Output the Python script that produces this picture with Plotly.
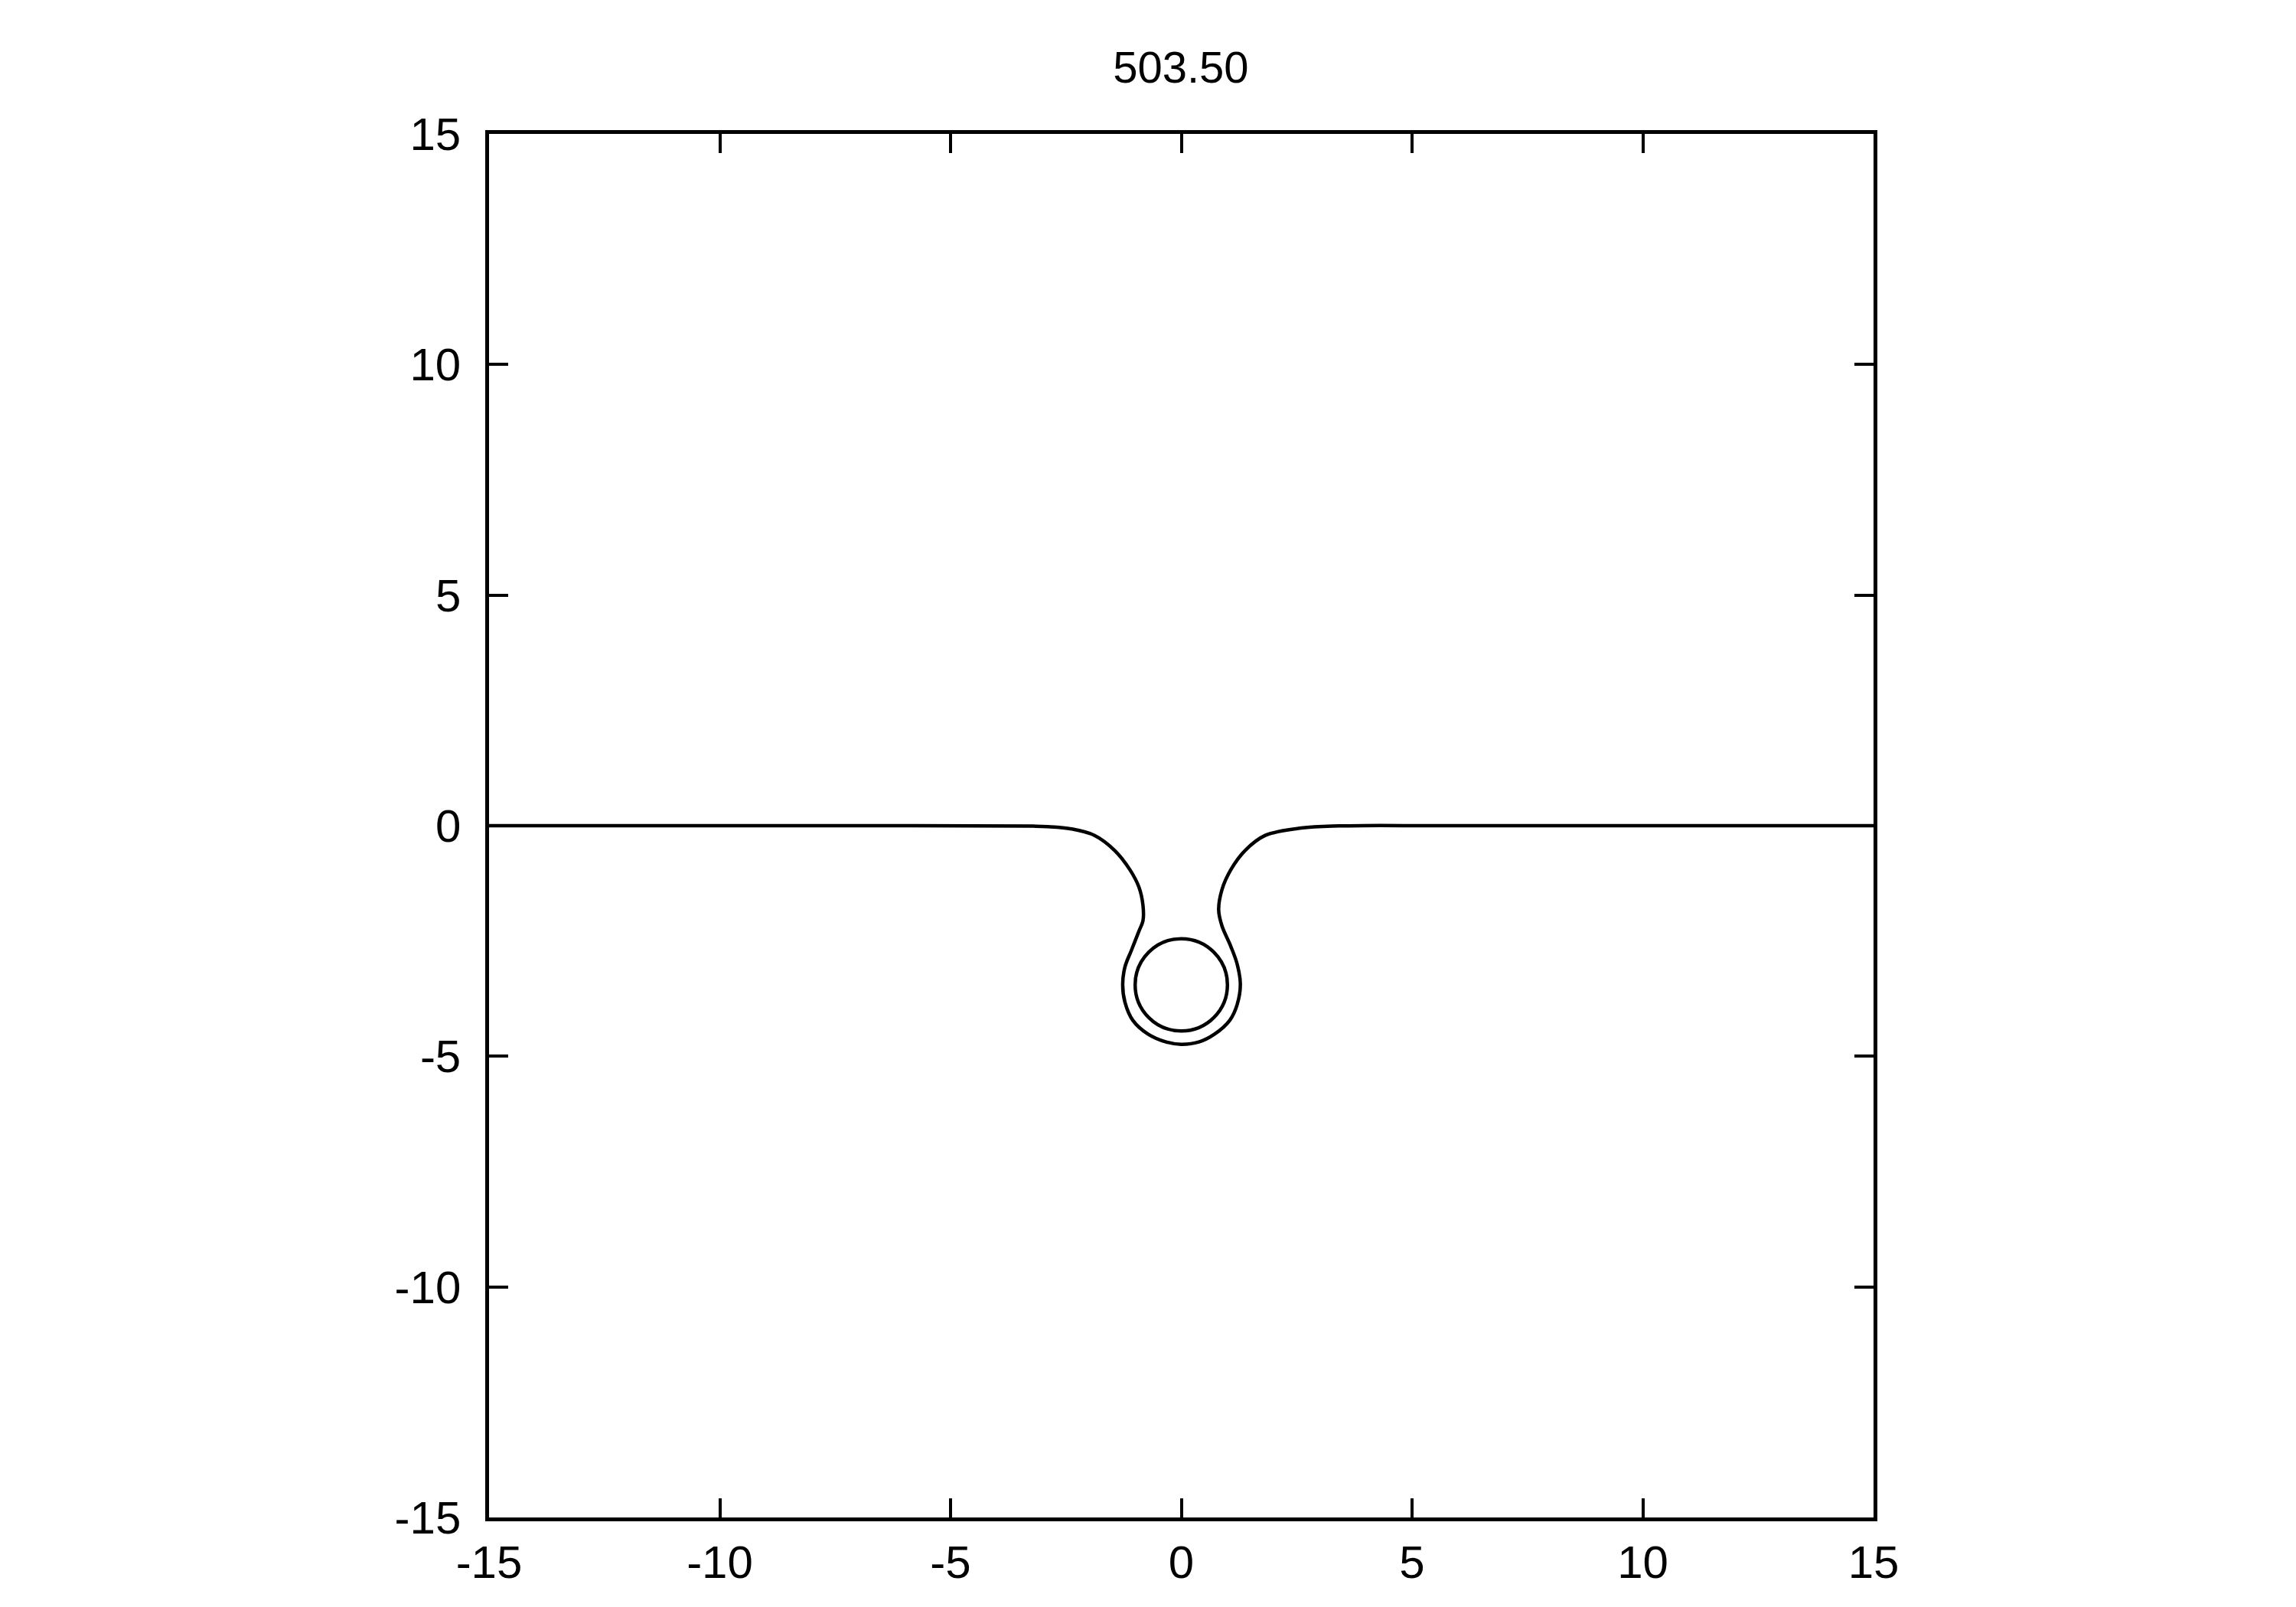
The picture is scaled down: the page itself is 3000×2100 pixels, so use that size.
import plotly.graph_objects as go

# Outer interface curve (x, y)
curve_x = [-15, -5.8, -3.21, -2.9, -2.38, -1.88, -1.44, -1.11, -0.915, -0.83, -0.83, -0.915,
           -1.08, -1.22, -1.27, -1.22, -1.05, -0.72, -0.33, 0.0,
           0.38, 0.72, 1.05, 1.21, 1.28, 1.21, 1.07, 0.88, 0.81, 0.88, 1.07, 1.38, 1.82,
           2.6, 3.42, 5.8, 15]
curve_y = [0.0, 0.0, -0.01, -0.02, -0.07, -0.21, -0.54, -0.96, -1.34, -1.73, -2.06, -2.28,
           -2.70, -3.06, -3.44, -3.83, -4.22, -4.52, -4.69, -4.74,
           -4.69, -4.52, -4.22, -3.88, -3.44, -3.0, -2.61, -2.17, -1.83, -1.39, -0.96, -0.54, -0.21,
           -0.05, -0.005, 0.0, 0.0]

# Inner circle
circle_cx = 0.0
circle_cy = -3.45
circle_r = 1.0

tick_vals = [-15, -10, -5, 0, 5, 10, 15]
tick_text = ["-15", "-10", "-5", "0", "5", "10", "15"]
title_text = "503.50"

fig = go.Figure()
fig.add_trace(go.Scatter(x=curve_x, y=curve_y, mode="lines",
                         line=dict(color="black", width=4.5, shape="spline", smoothing=1.0),
                         showlegend=False, hoverinfo="skip"))

fig.add_shape(type="circle", xref="x", yref="y",
              x0=circle_cx - circle_r, x1=circle_cx + circle_r,
              y0=circle_cy - circle_r, y1=circle_cy + circle_r,
              line=dict(color="black", width=4.5))

axis_common = dict(range=[-15, 15], tickvals=tick_vals, ticktext=tick_text,
                   showline=True, linecolor="black", linewidth=4.5, mirror="allticks",
                   ticks="inside", ticklen=25, tickwidth=4, tickcolor="black",
                   showgrid=False, zeroline=False, automargin=False,
                   tickfont=dict(family="Liberation Sans, Arial, sans-serif", size=60, color="black"))

fig.update_layout(
    template="none",
    width=3000, height=2100,
    margin=dict(l=639, r=552, t=175, b=117, pad=0),
    plot_bgcolor="white", paper_bgcolor="white",
    xaxis=dict(**axis_common, ticklabelstandoff=2),
    yaxis=dict(**axis_common, ticklabelstandoff=20),
    title=dict(text=title_text, x=0.5143, xanchor="center", y=1 - 88 / 2100, yanchor="middle",
               font=dict(family="Liberation Sans, Arial, sans-serif", size=58, color="black")),
)

fig.write_html("out.html", config={"displayModeBar": False},
               post_script="document.body.style.margin='0';document.body.style.overflow='hidden';")
